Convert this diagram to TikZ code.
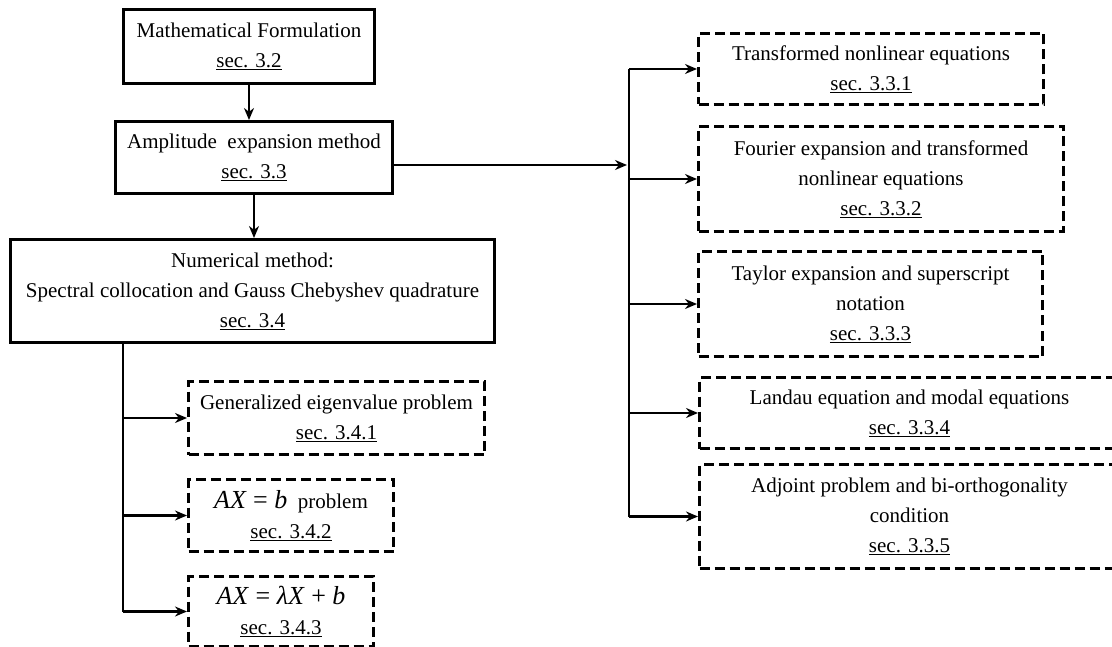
\documentclass[tikz,border=0pt]{standalone}
\usepackage{fontspec}
\setmainfont{Liberation Serif}
\usetikzlibrary{arrows.meta,positioning,calc}

\begin{document}
\begin{tikzpicture}[x=1pt, y=-1pt, >={Stealth[length=12pt,width=10pt]},
  solidbox/.style={draw, line width=3pt, inner sep=0pt, align=center, anchor=north west, font=\fontsize{21}{30}\selectfont},
  dashbox/.style={solidbox, dash pattern=on 10pt off 5pt},
  link/.style={line width=2.8pt}]
  \useasboundingbox (0,0) rectangle (1112,647);
  % left column
  \node[solidbox, minimum width=251pt, minimum height=74pt] (form) at (122,8) {Mathematical Formulation\\ \underline{sec. 3.2}};
  \node[solidbox, minimum width=277pt, minimum height=72pt] (amp) at (114,120) {Amplitude\ \ expansion method\\ \underline{sec. 3.3}};
  \node[solidbox, minimum width=484pt, minimum height=103pt] (num) at (9,238) {Numerical method:\\ Spectral collocation and Gauss Chebyshev quadrature\\ \underline{sec. 3.4}};
  \node[dashbox, minimum width=296pt, minimum height=73pt] (eig) at (187,380) {Generalized eigenvalue problem\\ \underline{sec. 3.4.1}};
  \node[dashbox, minimum width=205pt, minimum height=72pt] (axb) at (187,478) {{\fontsize{26}{30}\selectfont\textit{AX} = \textit{b}}\ \ problem\\ \underline{sec. 3.4.2}};
  \node[dashbox, minimum width=185pt, minimum height=70pt] (axl) at (187,575) {{\fontsize{26}{30}\selectfont\textit{AX} = \textit{λX} + \textit{b}}\\ \underline{sec. 3.4.3}};
  % right column
  \node[dashbox, minimum width=345pt, minimum height=71pt] (tnl) at (697,32) {Transformed nonlinear equations\\ \underline{sec. 3.3.1}};
  \node[dashbox, minimum width=365pt, minimum height=105pt] (fou) at (697,125) {Fourier expansion and transformed\\ nonlinear equations\\ \underline{sec. 3.3.2}};
  \node[dashbox, minimum width=344pt, minimum height=105pt] (tay) at (697,250) {Taylor expansion and superscript\\ notation\\ \underline{sec. 3.3.3}};
  \node[dashbox, minimum width=420pt, minimum height=71pt] (lan) at (698,376) {Landau equation and modal equations\\ \underline{sec. 3.3.4}};
  \node[dashbox, minimum width=420pt, minimum height=104pt] (adj) at (698,463) {Adjoint problem and bi-orthogonality\\ condition\\ \underline{sec. 3.3.5}};
  \coordinate (rbus) at (629,0);
  \coordinate (rin) at (627,165);
  \coordinate (lbus) at (123,0);
  % connectors
  \draw[link, ->] (form.south) -- (form.south |- amp.north);
  \draw[link, ->] (amp.south) -- (amp.south |- num.north);
  \draw[link, ->] (amp.east |- rin) -- (rin);
  \draw[link] (rbus |- tnl.west) -- (rbus |- adj.west);
  \foreach \n in {tnl,fou,tay,lan,adj}
    \draw[link, ->] (rbus |- \n.west) -- (\n.west);
  \draw[link] (lbus |- num.south) -- (lbus |- axl.west);
  \foreach \n in {eig,axb,axl}
    \draw[link, ->] (lbus |- \n.west) -- (\n.west);
\end{tikzpicture}
\end{document}
